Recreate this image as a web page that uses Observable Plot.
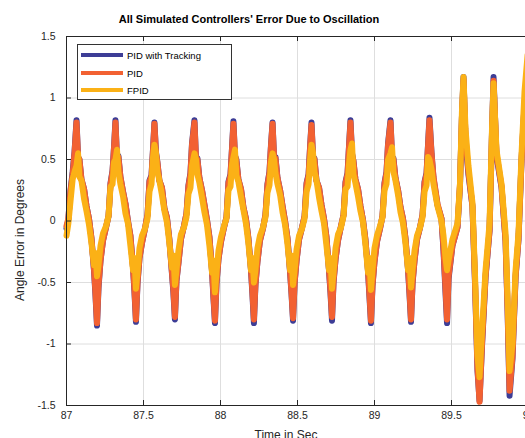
<!DOCTYPE html>
<html>
<head>
<meta charset="utf-8">
<script src="https://cdn.jsdelivr.net/npm/d3@7"></script>
<script src="https://cdn.jsdelivr.net/npm/@observablehq/plot@0.6"></script>
<style>
  html, body { margin: 0; padding: 0; background: #fff; overflow: hidden; }
  #wrap { position: relative; width: 525px; height: 438px; overflow: hidden; font-family: "Liberation Sans", Arial, Helvetica, sans-serif; }
  #chart { position: absolute; left: 0; top: 0; width: 560px; }
  #chart svg { max-width: none !important; width: 560px; height: 450px; }
  .title { position: absolute; left: 249px; top: 14px; transform: translateX(-50%); font-weight: bold; font-size: 11px; line-height: 11px; white-space: nowrap; color: #000; }
  .xlabel { position: absolute; left: 286px; top: 429px; transform: translateX(-50%); font-size: 12px; line-height: 12px; white-space: nowrap; color: #262626; }
  .ylabel { position: absolute; left: 20px; top: 240px; transform: translate(-50%, -50%) rotate(-90deg); font-size: 12px; line-height: 12px; white-space: nowrap; color: #262626; }
  .legend { position: absolute; left: 77px; top: 44px; width: 155px; height: 56px; border: 1px solid #333; background: #fff; box-sizing: border-box; }
  .legend .row { position: absolute; left: 3px; height: 10px; display: flex; align-items: center; }
  .legend .sw { width: 42px; height: 4px; margin-right: 4px; }
  .legend .lab { font-size: 9.5px; color: #000; white-space: nowrap; }
</style>
</head>
<body>
<div id="wrap">
  <div id="chart"></div>
  <div class="title">All Simulated Controllers' Error Due to Oscillation</div>
  <div class="xlabel">Time in Sec</div>
  <div class="ylabel">Angle Error in Degrees</div>
  <div class="legend" id="legend"></div>
</div>
<script>
const seriesNames = ["PID with Tracking", "PID", "FPID"];
const seriesColors = ["#3d3d96", "#f26132", "#fbb116"];
const xTicks = [87, 87.5, 88, 88.5, 89, 89.5, 90];
const yTicks = [-1.5, -1, -0.5, 0, 0.5, 1, 1.5];

const time = [
  87.000, 87.012, 87.026, 87.040, 87.052,
  87.065, 87.075, 87.084, 87.097, 87.114, 87.130, 87.146, 87.162, 87.179, 87.188, 87.198, 87.208, 87.221, 87.237, 87.257, 87.273, 87.286, 87.299, 87.309,
  87.318, 87.328, 87.337, 87.350, 87.367, 87.383, 87.399, 87.415, 87.432, 87.441, 87.451, 87.461, 87.474, 87.490, 87.510, 87.526, 87.539, 87.552, 87.562,
  87.571, 87.581, 87.590, 87.603, 87.620, 87.636, 87.652, 87.668, 87.685, 87.694, 87.704, 87.714, 87.727, 87.743, 87.763, 87.779, 87.792, 87.805, 87.815,
  87.831, 87.841, 87.850, 87.863, 87.880, 87.896, 87.912, 87.928, 87.945, 87.954, 87.964, 87.974, 87.987, 88.003, 88.023, 88.039, 88.052, 88.065, 88.075,
  88.084, 88.094, 88.103, 88.116, 88.133, 88.149, 88.165, 88.181, 88.198, 88.207, 88.217, 88.227, 88.240, 88.256, 88.276, 88.292, 88.305, 88.318, 88.328,
  88.338, 88.348, 88.357, 88.370, 88.387, 88.403, 88.419, 88.435, 88.452, 88.461, 88.471, 88.481, 88.494, 88.510, 88.530, 88.546, 88.559, 88.572, 88.582,
  88.591, 88.601, 88.610, 88.623, 88.640, 88.656, 88.672, 88.688, 88.705, 88.714, 88.724, 88.734, 88.747, 88.763, 88.783, 88.799, 88.812, 88.825, 88.835,
  88.844, 88.854, 88.863, 88.876, 88.893, 88.909, 88.925, 88.941, 88.958, 88.967, 88.977, 88.987, 89.000, 89.016, 89.036, 89.052, 89.065, 89.078, 89.088,
  89.104, 89.114, 89.123, 89.136, 89.153, 89.169, 89.185, 89.201, 89.218, 89.227, 89.237, 89.247, 89.260, 89.276, 89.296, 89.312, 89.325, 89.338, 89.348,
  89.357, 89.370, 89.383, 89.409, 89.435, 89.448, 89.461, 89.471, 89.481, 89.506, 89.539, 89.555, 89.568, 89.578, 89.591, 89.610, 89.636, 89.653,
  89.669, 89.682, 89.698, 89.721, 89.747, 89.763, 89.773, 89.792, 89.825, 89.851, 89.864, 89.877, 89.896, 89.916, 89.935, 89.955, 89.974, 89.994
];

const pidTracking = [
  -0.06, 0.01, 0.25, 0.40, 0.56,
  0.82, 0.52, 0.50, 0.34, 0.26, 0.12, 0.02, -0.14, -0.41, -0.60, -0.85, -0.54, -0.32, -0.16, -0.05, 0.04, 0.31, 0.41, 0.61,
  0.82, 0.50, 0.53, 0.36, 0.24, 0.14, 0.00, -0.12, -0.38, -0.57, -0.82, -0.51, -0.30, -0.18, -0.06, 0.05, 0.33, 0.37, 0.59,
  0.80, 0.56, 0.48, 0.33, 0.27, 0.10, 0.03, -0.15, -0.43, -0.58, -0.80, -0.49, -0.34, -0.15, -0.04, 0.06, 0.29, 0.39, 0.63,
  0.82, 0.50, 0.51, 0.35, 0.25, 0.13, 0.01, -0.13, -0.41, -0.62, -0.83, -0.51, -0.31, -0.17, -0.05, 0.03, 0.32, 0.38, 0.60,
  0.81, 0.53, 0.50, 0.34, 0.26, 0.11, 0.02, -0.14, -0.40, -0.59, -0.83, -0.52, -0.33, -0.16, -0.06, 0.05, 0.30, 0.40, 0.62,
  0.80, 0.51, 0.52, 0.35, 0.25, 0.12, 0.00, -0.14, -0.42, -0.59, -0.81, -0.51, -0.32, -0.15, -0.05, 0.04, 0.31, 0.38, 0.61,
  0.80, 0.52, 0.51, 0.33, 0.27, 0.13, 0.02, -0.13, -0.41, -0.58, -0.81, -0.50, -0.31, -0.16, -0.04, 0.05, 0.32, 0.39, 0.62,
  0.82, 0.55, 0.49, 0.34, 0.26, 0.12, 0.01, -0.15, -0.41, -0.61, -0.83, -0.53, -0.33, -0.17, -0.06, 0.04, 0.31, 0.40, 0.63,
  0.82, 0.52, 0.51, 0.35, 0.25, 0.11, 0.02, -0.14, -0.40, -0.59, -0.82, -0.51, -0.32, -0.15, -0.05, 0.05, 0.32, 0.39, 0.63,
  0.84, 0.56, 0.35, 0.13, 0.02, -0.24, -0.58, -0.83, -0.47, -0.20, -0.05, 0.28, 0.86, 1.17, 0.66, 0.38, 0.12, -0.52,
  -1.22, -1.46, -1.02, -0.46, -0.08, 0.72, 1.17, 0.53, 0.27, -0.16, -0.72, -1.42, -1.12, -0.46, -0.15, 0.50, 0.94, 1.22
];

const pid = [
  -0.04, 0.02, 0.24, 0.38, 0.55,
  0.80, 0.52, 0.50, 0.34, 0.26, 0.12, 0.02, -0.14, -0.40, -0.58, -0.83, -0.52, -0.32, -0.16, -0.05, 0.04, 0.30, 0.40, 0.60,
  0.80, 0.50, 0.52, 0.36, 0.24, 0.14, 0.00, -0.12, -0.38, -0.55, -0.80, -0.50, -0.30, -0.18, -0.06, 0.05, 0.32, 0.36, 0.58,
  0.79, 0.55, 0.48, 0.33, 0.27, 0.10, 0.03, -0.15, -0.42, -0.56, -0.78, -0.48, -0.34, -0.15, -0.04, 0.06, 0.28, 0.38, 0.62,
  0.80, 0.50, 0.50, 0.35, 0.25, 0.13, 0.01, -0.13, -0.40, -0.60, -0.81, -0.50, -0.31, -0.17, -0.05, 0.03, 0.31, 0.37, 0.59,
  0.79, 0.53, 0.49, 0.34, 0.26, 0.11, 0.02, -0.14, -0.39, -0.57, -0.80, -0.51, -0.33, -0.16, -0.06, 0.05, 0.29, 0.39, 0.61,
  0.79, 0.51, 0.51, 0.35, 0.25, 0.12, 0.00, -0.14, -0.41, -0.58, -0.79, -0.50, -0.32, -0.15, -0.05, 0.04, 0.30, 0.37, 0.60,
  0.78, 0.52, 0.50, 0.33, 0.27, 0.13, 0.02, -0.13, -0.40, -0.56, -0.78, -0.49, -0.31, -0.16, -0.04, 0.05, 0.31, 0.38, 0.61,
  0.80, 0.54, 0.49, 0.34, 0.26, 0.12, 0.01, -0.15, -0.40, -0.59, -0.81, -0.52, -0.33, -0.17, -0.06, 0.04, 0.30, 0.39, 0.62,
  0.80, 0.52, 0.50, 0.35, 0.25, 0.11, 0.02, -0.14, -0.39, -0.57, -0.80, -0.50, -0.32, -0.15, -0.05, 0.05, 0.31, 0.38, 0.62,
  0.82, 0.55, 0.36, 0.14, 0.02, -0.22, -0.54, -0.80, -0.45, -0.20, -0.05, 0.30, 0.85, 1.15, 0.68, 0.40, 0.12, -0.50,
  -1.20, -1.47, -1.00, -0.45, -0.08, 0.70, 1.14, 0.55, 0.28, -0.16, -0.70, -1.38, -1.10, -0.45, -0.15, 0.50, 0.95, 1.25
];

const fpid = [
  -0.12, -0.02, 0.16, 0.34, 0.40,
  0.45, 0.55, 0.36, 0.33, 0.18, 0.08, -0.03, -0.18, -0.36, -0.26, -0.45, -0.36, -0.20, -0.10, -0.04, 0.04, 0.28, 0.30, 0.48,
  0.50, 0.58, 0.40, 0.30, 0.20, 0.06, -0.02, -0.20, -0.40, -0.30, -0.55, -0.42, -0.22, -0.12, -0.06, 0.02, 0.24, 0.30, 0.52,
  0.62, 0.55, 0.40, 0.33, 0.21, 0.08, -0.01, -0.18, -0.38, -0.28, -0.52, -0.40, -0.24, -0.11, -0.05, 0.03, 0.22, 0.27, 0.45,
  0.55, 0.50, 0.38, 0.31, 0.19, 0.07, -0.03, -0.20, -0.42, -0.32, -0.58, -0.42, -0.24, -0.13, -0.04, 0.02, 0.25, 0.28, 0.46,
  0.52, 0.58, 0.37, 0.32, 0.20, 0.09, -0.02, -0.18, -0.40, -0.30, -0.50, -0.40, -0.22, -0.12, -0.05, 0.03, 0.23, 0.29, 0.48,
  0.55, 0.50, 0.39, 0.30, 0.21, 0.07, -0.03, -0.19, -0.40, -0.28, -0.52, -0.40, -0.23, -0.12, -0.06, 0.02, 0.24, 0.30, 0.50,
  0.62, 0.55, 0.40, 0.33, 0.19, 0.08, -0.02, -0.20, -0.40, -0.30, -0.55, -0.42, -0.22, -0.11, -0.05, 0.04, 0.26, 0.28, 0.47,
  0.58, 0.63, 0.38, 0.31, 0.20, 0.08, -0.01, -0.19, -0.42, -0.30, -0.56, -0.40, -0.22, -0.12, -0.04, 0.03, 0.25, 0.30, 0.50,
  0.55, 0.60, 0.40, 0.33, 0.21, 0.07, -0.02, -0.18, -0.40, -0.30, -0.54, -0.40, -0.24, -0.12, -0.05, 0.03, 0.24, 0.29, 0.52,
  0.50, 0.42, 0.30, 0.12, 0.00, -0.12, -0.30, -0.40, -0.32, -0.15, -0.02, 0.30, 0.90, 1.17, 0.75, 0.45, 0.15, -0.45,
  -1.10, -1.27, -0.90, -0.40, -0.02, 0.75, 1.12, 0.58, 0.30, -0.10, -0.60, -1.22, -1.00, -0.40, -0.10, 0.55, 1.05, 1.35
];

const seriesValues = [pidTracking, pid, fpid];
const rows = [];
seriesValues.forEach((vals, s) => {
  vals.forEach((v, i) => rows.push({series: seriesNames[s], t: time[i], v}));
});

const lineMarks = seriesNames.map((name, s) =>
  Plot.line(rows.filter(r => r.series === name), {
    x: "t", y: "v", stroke: seriesColors[s], strokeWidth: 6,
    strokeLinejoin: "round", strokeLinecap: "round"
  })
);

const chart = Plot.plot({
  width: 560,
  height: 450,
  marginTop: 36,
  marginBottom: 45,
  marginLeft: 66,
  marginRight: 32,
  style: {fontFamily: "'Liberation Sans', Arial, Helvetica, sans-serif", fontSize: "10.5px", color: "#262626", background: "#fff", maxWidth: "none"},
  x: {domain: [87, 90], label: null},
  y: {domain: [-1.5, 1.5], label: null},
  marks: [
    Plot.gridX(xTicks, {stroke: "#dedede", strokeOpacity: 1}),
    Plot.gridY(yTicks, {stroke: "#dedede", strokeOpacity: 1}),
    ...lineMarks,
    Plot.tickX(xTicks, {x: d => d, insetTop: 364, stroke: "#262626"}),
    Plot.tickX(xTicks, {x: d => d, insetBottom: 364, stroke: "#262626"}),
    Plot.tickY(yTicks, {y: d => d, insetRight: 457, stroke: "#262626"}),
    Plot.frame({stroke: "#262626"}),
    Plot.axisX(xTicks, {tickSize: 0, tickPadding: 6, tickFormat: d => String(d), label: null}),
    Plot.axisY(yTicks, {tickSize: 0, tickPadding: 11, tickFormat: d => String(d), label: null})
  ]
});
document.getElementById("chart").appendChild(chart);

const legend = document.getElementById("legend");
const rowTops = [5, 23, 40];
seriesNames.forEach((name, s) => {
  const row = document.createElement("div");
  row.className = "row";
  row.style.top = rowTops[s] + "px";
  const sw = document.createElement("div");
  sw.className = "sw";
  sw.style.background = seriesColors[s];
  const lab = document.createElement("span");
  lab.className = "lab";
  lab.textContent = name;
  row.appendChild(sw);
  row.appendChild(lab);
  legend.appendChild(row);
});
</script>
</body>
</html>
